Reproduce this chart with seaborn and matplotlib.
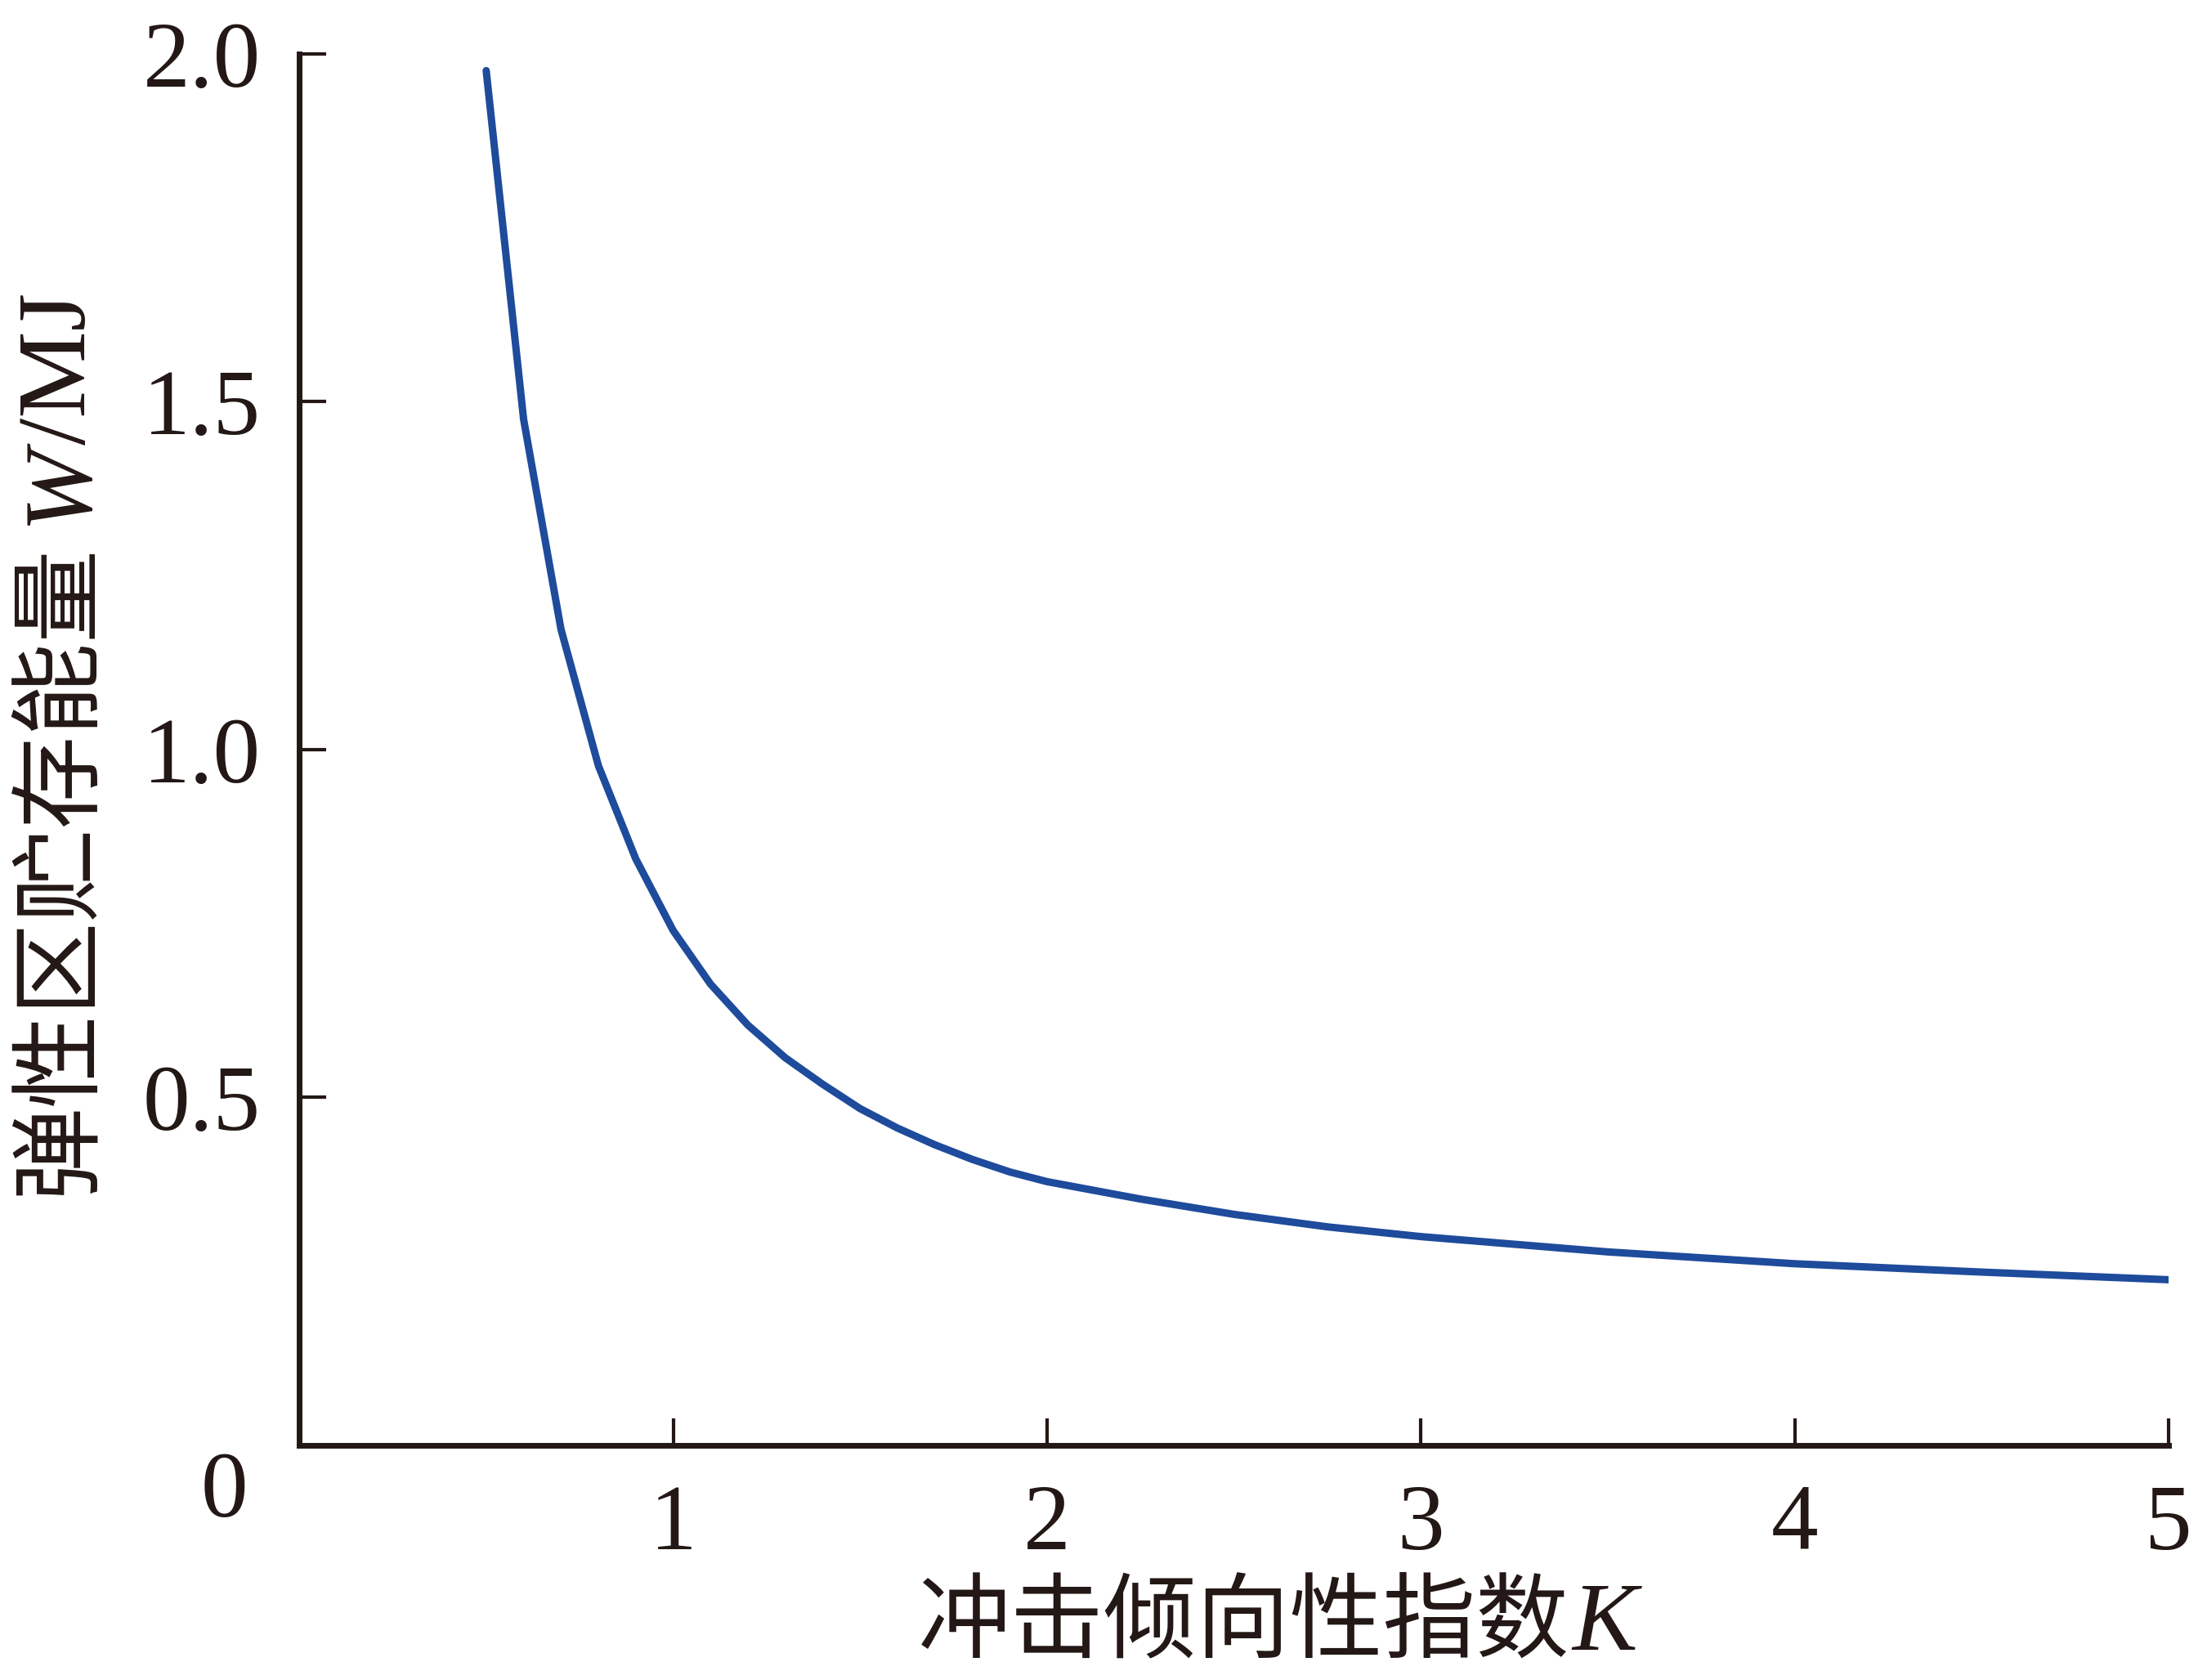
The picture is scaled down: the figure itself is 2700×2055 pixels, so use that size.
import numpy as np
import pandas as pd
import matplotlib
matplotlib.use('Agg')
import matplotlib.pyplot as plt
import seaborn as sns

# values
K = [0.5, 0.6, 0.7, 0.8, 0.9, 1.0, 1.1, 1.2, 1.3, 1.4, 1.5, 1.6, 1.7, 1.8, 1.9, 2.0,
     2.25, 2.5, 2.75, 3.0, 3.5, 4.0, 4.5, 5.0]
W = [1.976, 1.475, 1.173, 0.977, 0.843, 0.740, 0.663, 0.604, 0.557, 0.519, 0.484,
     0.456, 0.432, 0.411, 0.393, 0.379, 0.354, 0.332, 0.314, 0.300, 0.278, 0.261,
     0.249, 0.238]

x_ticks = [1, 2, 3, 4, 5]
y_ticks = [0.5, 1.0, 1.5, 2.0]
x_label_cn = '冲击倾向性指数'
x_label_sym = 'K'
y_label_cn = '弹性区贮存能量'
y_label_sym = 'W'
y_label_unit = '/MJ'

sns.set_theme(style='ticks')
plt.rcParams['font.family'] = ['Liberation Serif', 'Noto Sans CJK SC']

ink = '#231815'
line_color = '#1E4B9B'

fig = plt.figure(figsize=(27, 20.55), dpi=100)
ax = fig.add_axes([0.1356, 0.1397, 0.847, 0.8282])

df = pd.DataFrame({'K': K, 'W': W})
sns.lineplot(data=df, x='K', y='W', ax=ax, color=line_color, linewidth=6.5)

ax.set_xlim(0, 5)
ax.set_ylim(0, 2)
ax.set_xticks(x_ticks)
ax.set_xticklabels([str(t) for t in x_ticks])
ax.set_yticks(y_ticks)
ax.set_yticklabels(['%.1f' % t for t in y_ticks])
ax.set_xlabel('')
ax.set_ylabel('')

for side in ['top', 'right']:
    ax.spines[side].set_visible(False)
for side in ['left', 'bottom']:
    ax.spines[side].set_linewidth(5)
    ax.spines[side].set_color(ink)

ax.tick_params(direction='in', length=24, width=3, color=ink,
               labelcolor=ink, labelsize=83, pad=34)
for lab in ax.get_xticklabels() + ax.get_yticklabels():
    lab.set_family('Liberation Serif')

# shared origin label
ax.text(-0.2, -0.07, '0', fontsize=83, color=ink, ha='center', va='center',
        family='Liberation Serif', clip_on=False)

# axis titles built from pieces (CJK + serif latin)
fig.canvas.draw()
renderer = fig.canvas.get_renderer()
W_px, H_px = fig.get_size_inches() * fig.dpi

xa = fig.text(0, 0.018, x_label_cn, fontsize=82, color=ink,
              family=['Noto Sans CJK SC'], ha='left', va='baseline')
xb = fig.text(0, 0.018, x_label_sym, fontsize=86, color=ink,
              family=['Liberation Serif'], style='italic', ha='left', va='baseline')
wa = xa.get_window_extent(renderer).width
wb = xb.get_window_extent(renderer).width
x0 = 1561 - (wa + wb) / 2
xa.set_x(x0 / W_px)
xb.set_x((x0 + wa + 4) / W_px)

bx = 0.0385
ya = fig.text(bx, 0, y_label_cn, fontsize=82, color=ink, rotation=90,
              rotation_mode='anchor', family=['Noto Sans CJK SC'],
              ha='left', va='baseline')
yb = fig.text(bx, 0, y_label_sym, fontsize=86, color=ink, rotation=90,
              rotation_mode='anchor', family=['Liberation Serif'], style='italic',
              ha='left', va='baseline')
yc_ = fig.text(bx, 0, y_label_unit, fontsize=86, color=ink, rotation=90,
               rotation_mode='anchor', family=['Liberation Serif'],
               ha='left', va='baseline')
h1 = ya.get_window_extent(renderer).height
h2 = yb.get_window_extent(renderer).height
h3 = yc_.get_window_extent(renderer).height
gap = 22
yc = (1 - 910 / 2055) * H_px
y0 = yc - (h1 + gap + h2 + h3) / 2
ya.set_y(y0 / H_px)
yb.set_y((y0 + h1 + gap) / H_px)
yc_.set_y((y0 + h1 + gap + h2) / H_px)

fig.savefig('out.png', dpi=100, facecolor='white')
